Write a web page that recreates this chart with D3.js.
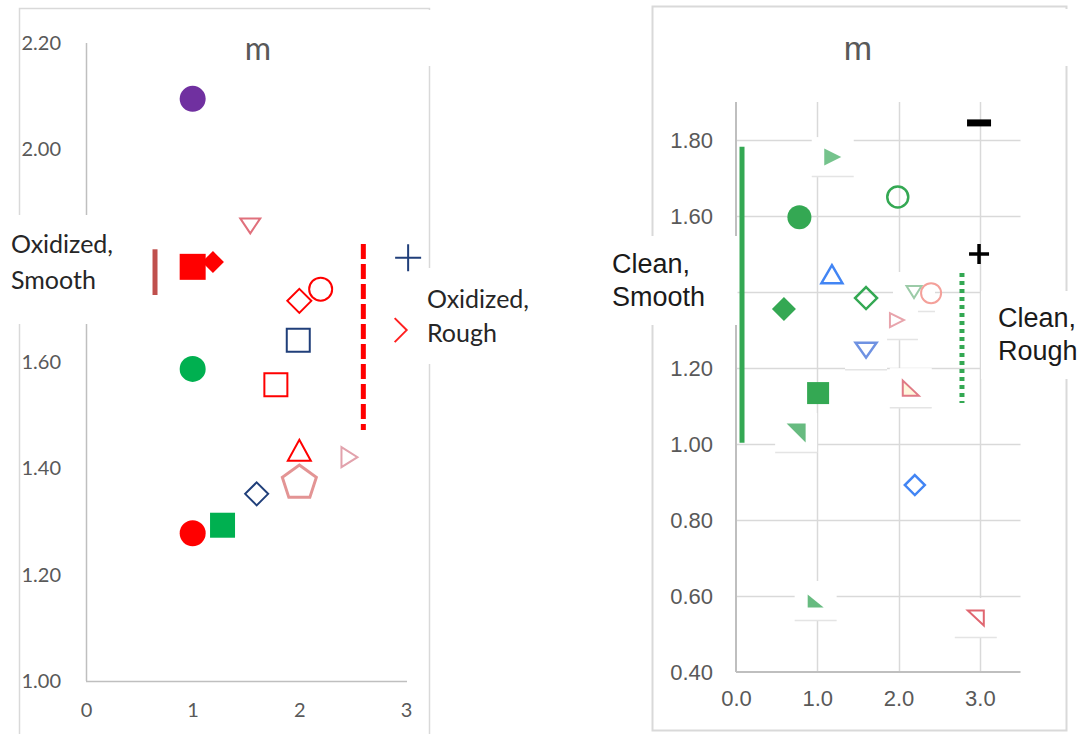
<!DOCTYPE html>
<html>
<head>
<meta charset="utf-8">
<script src="https://cdn.jsdelivr.net/npm/d3@7"></script>
<style>
  html, body { margin: 0; padding: 0; background: #fff; }
  svg { display: block; }
</style>
</head>
<body>
<svg id="chart" width="1090" height="734"></svg>
<script>
// ---- panel (a): oxidized samples --------------------------------
const aIds = ["a1","a2","a3","a4","a5","a6","a7","a8","a9","a10","a11","a12","a13","a14","a15","a16","a17"];
const aX   = [1.00, 1.54, 1.00, 1.19, 2.20, 2.00, 1.99, 1.00, 1.78, 2.00, 2.47, 2.00, 1.60, 1.28, 1.00, 3.02, 2.95];
const aY   = [2.095, 1.856, 1.779, 1.788, 1.737, 1.715, 1.641, 1.587, 1.557, 1.434, 1.421, 1.376, 1.352, 1.293, 1.278, 1.796, 1.660];
const aTicksX = [0, 1, 2, 3];
const aTicksY = [1.0, 1.2, 1.4, 1.6, 1.8, 2.0, 2.2];
// group brackets (smooth / rough)
const aGroups  = ["smooth", "rough"];
const aGroupX  = [0.647, 2.60];
const aGroupY0 = [1.812, 1.822];
const aGroupY1 = [1.726, 1.472];

// ---- panel (b): clean samples -----------------------------------
const bIds = ["b1","b2","b3","b4","b5","b6","b7","b8","b9","b10","b11","b12","b13","b14","b15","b16","b17","b18"];
const bX   = [2.99, 1.19, 1.99, 0.78, 2.99, 1.18, 1.60, 0.59, 2.19, 2.40, 1.98, 1.60, 2.15, 1.01, 0.74, 2.20, 0.98, 2.95];
const bY   = [1.845, 1.755, 1.650, 1.597, 1.500, 1.447, 1.384, 1.355, 1.400, 1.397, 1.326, 1.247, 1.147, 1.134, 1.029, 0.892, 0.587, 0.542];
const bTicksX = [0, 1, 2, 3];
const bTicksY = [0.4, 0.6, 0.8, 1.0, 1.2, 1.4, 1.6, 1.8];
const bGroups  = ["smooth", "rough"];
const bGroupX  = [0.074, 2.78];
const bGroupY0 = [1.782, 1.450];
const bGroupY1 = [1.003, 1.108];

// marker look per sample id
const markStyle = {
  a1:  {shape:"circle",   w:26, fill:"#7030A0"},
  a2:  {shape:"triDown",  w:20, h:15, stroke:"#E0707C", sw:2},
  a3:  {shape:"square",   w:26, fill:"#FF0000"},
  a4:  {shape:"diamond",  w:22, fill:"#FF0000"},
  a5:  {shape:"circle",   w:23, stroke:"#FF0000", sw:2},
  a6:  {shape:"diamond",  w:24, stroke:"#FF0000", sw:2},
  a7:  {shape:"square",   w:23, stroke:"#203F7A", sw:2},
  a8:  {shape:"circle",   w:26, fill:"#00B050"},
  a9:  {shape:"square",   w:23, stroke:"#FF0000", sw:2},
  a10: {shape:"triUp",    w:23, h:21, stroke:"#FF0000", sw:2},
  a11: {shape:"triRight", w:16, h:20, stroke:"#E2A2AC", sw:2},
  a12: {shape:"pentagon", w:34, stroke:"#E39494", sw:3},
  a13: {shape:"diamond",  w:23, stroke:"#203F7A", sw:2},
  a14: {shape:"square",   w:25, fill:"#00B050"},
  a15: {shape:"circle",   w:26, fill:"#FF0000"},
  a16: {shape:"plus",     w:26, h:27, stroke:"#203F7A", sw:2},
  a17: {shape:"chevron",  w:12, h:24, stroke:"#FF2020", sw:2},

  b1:  {shape:"minus",    w:24, h:7,  fill:"#000"},
  b2:  {shape:"triRight", w:17, h:17, fill:"#5DB878", op:0.85, ghost:true},
  b3:  {shape:"circle",   w:21, stroke:"#34A853", sw:2.5},
  b4:  {shape:"circle",   w:24, fill:"#34A853"},
  b5:  {shape:"plus",     w:20, h:20, stroke:"#000", sw:3.5},
  b6:  {shape:"triUp",    w:21, h:18, stroke:"#4285F4", sw:2.5},
  b7:  {shape:"diamond",  w:22, stroke:"#34A853", sw:2.5},
  b8:  {shape:"diamond",  w:24, fill:"#34A853"},
  b9:  {shape:"triDown",  w:15, h:12, stroke:"#9CCBA8", sw:2, ghost:true},
  b10: {shape:"circle",   w:20, stroke:"#F4A09A", sw:2},
  b11: {shape:"triRight", w:14, h:14, stroke:"#E8A4AC", sw:2, ghost:true},
  b12: {shape:"triDown",  w:21, h:15, stroke:"#6F92E2", sw:2.5, ghost:true},
  b13: {shape:"cornerBL", w:16, h:15, stroke:"#E07A85", sw:2, fill:"#FFF6DC", ghost:true},
  b14: {shape:"square",   w:22, fill:"#34A853"},
  b15: {shape:"cornerTR", w:19, h:19, fill:"#4CAF6A", op:0.85, ghost:true},
  b16: {shape:"diamond",  w:20, stroke:"#4285F4", sw:2.5},
  b17: {shape:"cornerBL", w:16, h:13, fill:"#4CAF6A", op:0.85, ghost:true},
  b18: {shape:"cornerTR", w:16, h:15, stroke:"#E06670", sw:2, ghost:true}
};

const svg = d3.select("#chart");
const GREY_TXT = "#595959";

// path for a marker centred on 0,0
function shapePath(st) {
  const w = st.w, h = st.h ?? st.w, hw = w / 2, hh = h / 2;
  switch (st.shape) {
    case "circle":   return `M${-hw},0A${hw},${hw} 0 1 0 ${hw},0A${hw},${hw} 0 1 0 ${-hw},0Z`;
    case "square":   return `M${-hw},${-hh}H${hw}V${hh}H${-hw}Z`;
    case "diamond":  return `M0,${-hh}L${hw},0L0,${hh}L${-hw},0Z`;
    case "triUp":    return `M0,${-hh}L${hw},${hh}L${-hw},${hh}Z`;
    case "triDown":  return `M${-hw},${-hh}L${hw},${-hh}L0,${hh}Z`;
    case "triRight": return `M${-hw},${-hh}L${hw},0L${-hw},${hh}Z`;
    case "cornerBL": return `M${-hw},${-hh}L${-hw},${hh}L${hw},${hh}Z`;
    case "cornerTR": return `M${-hw},${-hh}L${hw},${-hh}L${hw},${hh}Z`;
    case "plus":     return `M${-hw},0H${hw}M0,${-hh}V${hh}`;
    case "chevron":  return `M${-hw},${-hh}L${hw},0L${-hw},${hh}`;
    case "minus":    return `M${-hw},${-hh}H${hw}V${hh}H${-hw}Z`;
    case "pentagon": {
      const r = hw / Math.sin(72 * Math.PI / 180);
      const pts = d3.range(5).map(i => {
        const a = -Math.PI / 2 + i * 2 * Math.PI / 5;
        return [r * Math.cos(a), r * Math.sin(a) + r * 0.1];
      });
      return "M" + pts.map(p => p.join(",")).join("L") + "Z";
    }
  }
  return "";
}

function drawMarks(g, ids, xs, ys, x, y) {
  const rows = ids.map((id, i) => ({id, x: xs[i], y: ys[i], st: markStyle[id]}));
  // faint pasted-box behind some faded markers
  g.selectAll("g.ghost").data(rows.filter(d => d.st.ghost)).enter()
    .append("g").attr("class", "ghost")
    .attr("transform", d => `translate(${x(d.x)},${y(d.y)})`)
    .each(function() {
      const s = d3.select(this);
      s.append("rect").attr("x", -21).attr("y", -20).attr("width", 42).attr("height", 40)
        .attr("fill", "#fff");
      s.append("line").attr("x1", -21).attr("x2", 21).attr("y1", 19.5).attr("y2", 19.5)
        .attr("stroke", "#e4e4e4").attr("stroke-width", 1.5);
    });
  g.selectAll("path.mark").data(rows).enter()
    .append("path").attr("class", "mark")
    .attr("transform", d => `translate(${x(d.x)},${y(d.y)})`)
    .attr("d", d => shapePath(d.st))
    .attr("fill", d => d.st.fill || "none")
    .attr("stroke", d => d.st.stroke || "none")
    .attr("stroke-width", d => d.st.sw || 0)
    .attr("stroke-linejoin", "miter")
    .attr("opacity", d => d.st.op ?? 1);
}

function whiteBox(x0, y0, x1, y1) {
  svg.append("rect").attr("x", x0).attr("y", y0).attr("width", x1 - x0).attr("height", y1 - y0)
    .attr("fill", "#fff");
}

// =================== panel (a) ===================
{
  const x = d3.scaleLinear().domain([0, 3]).range([86, 406]);
  const y = d3.scaleLinear().domain([1, 2.2]).range([681, 43]);
  const g = svg.append("g");

  // outer frame
  g.append("rect").attr("x", 19.5).attr("y", 8.5).attr("width", 410).attr("height", 740)
    .attr("fill", "none").attr("stroke", "#D9D9D9").attr("stroke-width", 1.5);

  // axes (no tick marks)
  const yAxis = g.append("g").attr("transform", `translate(${x(0)},0)`)
    .call(d3.axisLeft(y).tickValues(aTicksY).tickFormat(d3.format(".2f")).tickSize(0).tickPadding(25));
  const xAxis = g.append("g").attr("transform", `translate(0,${y(1)})`)
    .call(d3.axisBottom(x).tickValues(aTicksX).tickFormat(d3.format("d")).tickSize(0).tickPadding(22));
  [yAxis, xAxis].forEach(a => {
    a.select(".domain").attr("stroke", "#BFBFBF").attr("stroke-width", 1.5);
    a.selectAll("text").attr("fill", GREY_TXT).attr("font-family", "Lato, 'Open Sans', sans-serif").attr("font-size", 20);
  });
  xAxis.select(".domain").attr("d", `M${x(0)},0.5H${x(3) + 1}`);
  yAxis.select(".domain").attr("d", `M0.5,${y(2.2)}V${y(1)}`);

  // title and panel tag
  g.append("text").attr("x", 258).attr("y", 60).attr("text-anchor", "middle")
    .attr("fill", GREY_TXT).attr("font-family", "Lato, sans-serif").attr("font-size", 32).text("m");
  whiteBox(360, 10, 440, 66);
  g.append("text").attr("x", 397).attr("y", 54).attr("text-anchor", "middle")
    .attr("fill", "#000").attr("font-family", "'Liberation Serif', serif").attr("font-size", 22).text("(a)");

  // label boxes covering frame
  whiteBox(0, 215, 165, 324);
  whiteBox(416, 268, 560, 364);
  const lab = (tx, ty, s) => svg.append("text").attr("x", tx).attr("y", ty)
    .attr("fill", "#262626").attr("font-family", "Lato, sans-serif").attr("font-size", 25).text(s);
  lab(11, 253, "Oxidized,");
  lab(11, 289, "Smooth");
  lab(427, 308, "Oxidized,");
  lab(427, 342, "Rough");

  // group brackets
  const gl = svg.append("g");
  gl.append("line").attr("x1", x(aGroupX[0])).attr("x2", x(aGroupX[0]))
    .attr("y1", y(aGroupY0[0])).attr("y2", y(aGroupY1[0]))
    .attr("stroke", "#C0504D").attr("stroke-width", 5);
  gl.append("line").attr("x1", x(aGroupX[1])).attr("x2", x(aGroupX[1]))
    .attr("y1", y(aGroupY0[1])).attr("y2", y(aGroupY1[1]))
    .attr("stroke", "#FF0000").attr("stroke-width", 5).attr("stroke-dasharray", "15,5");

  drawMarks(svg.append("g"), aIds, aX, aY, x, y);
}

// =================== panel (b) ===================
{
  const x = d3.scaleLinear().domain([0, 3.5]).range([736, 1020.5]);
  const y = d3.scaleLinear().domain([0.4, 1.9]).range([672, 102]);
  const g = svg.append("g");

  g.append("rect").attr("x", 652.5).attr("y", 6.5).attr("width", 414).attr("height", 724)
    .attr("fill", "none").attr("stroke", "#D9D9D9").attr("stroke-width", 2);

  // gridlines
  g.append("g").selectAll("line.h").data(bTicksY.filter(v => v > 0.4)).enter()
    .append("line").attr("x1", x(0)).attr("x2", x(3.5))
    .attr("y1", d => Math.round(y(d)) + 0.5).attr("y2", d => Math.round(y(d)) + 0.5)
    .attr("stroke", "#D9D9D9").attr("stroke-width", 1.5);
  g.append("g").selectAll("line.v").data(bTicksX.filter(v => v > 0)).enter()
    .append("line").attr("x1", d => Math.round(x(d)) + 0.5).attr("x2", d => Math.round(x(d)) + 0.5)
    .attr("y1", y(1.9)).attr("y2", y(0.4))
    .attr("stroke", "#D9D9D9").attr("stroke-width", 1.5);

  const yAxis = g.append("g").attr("transform", `translate(${x(0)},0)`)
    .call(d3.axisLeft(y).tickValues(bTicksY).tickFormat(d3.format(".2f")).tickSize(0).tickPadding(23));
  const xAxis = g.append("g").attr("transform", `translate(0,${y(0.4)})`)
    .call(d3.axisBottom(x).tickValues(bTicksX).tickFormat(d3.format(".1f")).tickSize(0).tickPadding(18));
  [yAxis, xAxis].forEach(a => {
    a.select(".domain").attr("stroke", "#BFBFBF").attr("stroke-width", 2);
    a.selectAll("text").attr("fill", GREY_TXT).attr("font-family", "'Liberation Sans', Arial, sans-serif").attr("font-size", 22);
  });
  xAxis.select(".domain").attr("d", `M${x(0)},0H${x(3.5)}`);
  yAxis.select(".domain").attr("d", `M0,${y(1.9)}V${y(0.4)}`);

  g.append("text").attr("x", 858).attr("y", 60).attr("text-anchor", "middle")
    .attr("fill", GREY_TXT).attr("font-family", "'Liberation Sans', Arial, sans-serif").attr("font-size", 34).text("m");
  whiteBox(1000, 9, 1090, 66);
  g.append("text").attr("x", 1030).attr("y", 54).attr("text-anchor", "middle")
    .attr("fill", "#000").attr("font-family", "'Liberation Serif', serif").attr("font-size", 22).text("(b)");

  whiteBox(600, 236, 737.5, 325);
  whiteBox(981, 291, 1090, 379);
  const lab = (tx, ty, s) => svg.append("text").attr("x", tx).attr("y", ty)
    .attr("fill", "#1A1A1A").attr("font-family", "'Liberation Sans', Arial, sans-serif").attr("font-size", 27).text(s);
  lab(612, 273, "Clean,");
  lab(612, 306, "Smooth");
  lab(998, 327, "Clean,");
  lab(998, 360, "Rough");

  const gl = svg.append("g");
  gl.append("line").attr("x1", x(bGroupX[0])).attr("x2", x(bGroupX[0]))
    .attr("y1", y(bGroupY0[0])).attr("y2", y(bGroupY1[0]))
    .attr("stroke", "#34A853").attr("stroke-width", 5);
  gl.append("line").attr("x1", x(bGroupX[1])).attr("x2", x(bGroupX[1]))
    .attr("y1", y(bGroupY0[1])).attr("y2", y(bGroupY1[1]))
    .attr("stroke", "#34A853").attr("stroke-width", 5).attr("stroke-dasharray", "4,4");

  drawMarks(svg.append("g"), bIds, bX, bY, x, y);
}
</script>
</body>
</html>
